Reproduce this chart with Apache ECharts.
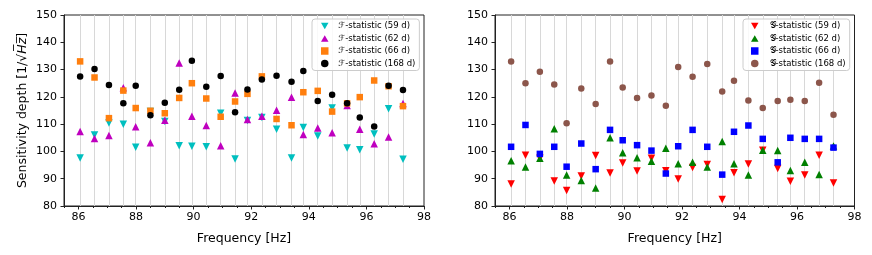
<!DOCTYPE html>
<html><head><meta charset="utf-8">
<script src="https://cdn.jsdelivr.net/npm/echarts@6/dist/echarts.min.js"></script>
<style>html,body{margin:0;padding:0;background:#fff}#c{width:872px;height:255px}</style>
</head><body><div id="c"></div>
<script>
const freqs = [86.06, 86.56, 87.06, 87.56, 87.99, 88.5, 89.0, 89.5, 89.94, 90.44, 90.94, 91.44, 91.87, 92.37, 92.88, 93.4, 93.81, 94.31, 94.81, 95.33, 95.77, 96.27, 96.77, 97.27];
const xTicks = [86, 88, 90, 92, 94, 96, 98];

const F59  = [97.6, 106.0, 110.4, 110.0, 101.5, 114.6, 111.0, 102.1, 101.9, 101.7, 114.0, 97.2, 111.3, 112.4, 108.1, 97.6, 108.8, 105.7, 115.9, 101.3, 100.6, 106.4, 115.6, 97.1];
const F62  = [107.3, 104.7, 105.8, 123.3, 109.0, 103.2, 111.4, 132.4, 112.9, 109.5, 102.1, 121.4, 111.7, 112.9, 115.1, 119.9, 106.2, 108.6, 106.8, 116.8, 108.1, 102.8, 105.3, 117.6];
const F66  = [133.0, 127.1, 112.2, 122.3, 115.9, 114.9, 114.0, 119.6, 125.0, 119.4, 112.7, 118.3, 121.1, 127.5, 111.9, 109.6, 121.7, 122.2, 114.6, 117.6, 119.9, 126.0, 123.9, 116.6];
const F168 = [127.5, 130.2, 124.3, 117.7, 124.1, 113.3, 117.8, 122.6, 133.2, 123.7, 127.6, 114.4, 122.7, 126.4, 127.7, 125.5, 129.5, 118.5, 120.8, 117.7, 112.4, 109.1, 124.1, 122.5];

const G59  = [88.1, 98.6, 97.5, 89.2, 85.7, 91.0, 98.5, 92.1, 95.8, 92.8, 97.5, 92.9, 89.9, 94.1, 95.2, 82.4, 92.2, 95.4, 100.4, 93.7, 89.1, 91.4, 98.6, 88.4];
const G62  = [96.6, 94.3, 97.5, 108.3, 91.4, 89.3, 86.6, 105.0, 99.5, 97.7, 96.4, 101.2, 95.5, 96.0, 94.3, 103.6, 95.5, 91.4, 100.4, 100.3, 93.0, 96.0, 91.5, 102.0];
const G66  = [101.7, 109.7, 99.1, 101.7, 94.4, 102.9, 93.5, 107.9, 104.1, 102.3, 100.3, 91.9, 101.9, 107.9, 101.7, 91.5, 107.2, 109.5, 104.6, 96.0, 105.0, 104.6, 104.6, 101.4];
const G168 = [133.0, 125.0, 129.2, 124.5, 110.3, 123.1, 117.4, 133.0, 123.4, 119.6, 120.5, 116.7, 130.9, 127.4, 132.0, 122.0, 125.9, 118.7, 115.9, 118.5, 118.9, 118.5, 125.2, 113.4];

const namesF = ['ℱ-statistic (59 d)', 'ℱ-statistic (62 d)', 'ℱ-statistic (66 d)', 'ℱ-statistic (168 d)'];
const namesG = ['𝒢-statistic (59 d)', '𝒢-statistic (62 d)', '𝒢-statistic (66 d)', '𝒢-statistic (168 d)'];

const FONT = 'DejaVu Sans';
const DOWN = 'path://M0,0L2,0L1,1.732Z';
const UP = 'path://M1,0L2,1.732L0,1.732Z';
const icons = [DOWN, UP, 'rect', 'circle'];
const zip = (v) => freqs.map((f, i) => [f, v[i]]);

function xAxesFor(g) {
  return [{
    type: 'value', gridIndex: g, min: 85.5, max: 98, position: 'bottom',
    name: 'Frequency [Hz]', nameLocation: 'middle', nameGap: 26,
    nameTextStyle: {fontFamily: FONT, fontSize: 12.5, color: '#000'},
    axisLine: {show: true, lineStyle: {color: '#222', width: 1}},
    axisTick: {show: true, inside: false, length: 3.5, customValues: xTicks, lineStyle: {color: '#222'}},
    axisLabel: {customValues: xTicks, fontFamily: FONT, fontSize: 11, color: '#000', margin: 6},
    splitLine: {show: false}
  }, {
    type: 'value', gridIndex: g, min: 85.5, max: 98, interval: 0.5, position: 'bottom',
    axisLine: {show: false},
    axisTick: {show: true, length: 2, lineStyle: {color: '#222'}},
    axisLabel: {show: false}, splitLine: {show: false}
  }];
}
function yAxisFor(g, withName) {
  const a = {
    type: 'value', gridIndex: g, min: 80, max: 150, interval: 10,
    axisLine: {show: true, lineStyle: {color: '#222', width: 1}},
    axisTick: {show: true, length: 3.5, lineStyle: {color: '#222'}},
    axisLabel: {fontFamily: FONT, fontSize: 11, color: '#000', margin: 7},
    splitLine: {show: false}
  };
  if (withName) {
    a.name = 'Sensitivity depth [1/√{hz|H̅z̅}]';
    a.nameLocation = 'middle';
    a.nameGap = 35;
    a.nameTextStyle = {fontFamily: FONT, fontSize: 12.5, color: '#000',
      rich: {hz: {fontFamily: FONT, fontSize: 12.5, fontStyle: 'italic', color: '#000'}}};
  }
  return a;
}
function scat(name, data, color, symbol, rot, size, xi, yi) {
  return {type: 'scatter', name: name, data: zip(data), xAxisIndex: xi, yAxisIndex: yi,
    symbol: symbol, symbolRotate: rot, symbolSize: size,
    itemStyle: {color: color, opacity: 1}, emphasis: {disabled: true}, z: 3};
}
function vlines(xi, yi) {
  return {type: 'scatter', name: 'vl', data: [], xAxisIndex: xi, yAxisIndex: yi, z: 1, silent: true,
    markLine: {silent: true, symbol: ['none', 'none'], z: 1, animation: false,
      label: {show: false}, lineStyle: {color: '#d8d8d8', width: 1, type: 'solid'},
      emphasis: {disabled: true},
      data: freqs.map(f => ({xAxis: f}))}};
}
function legendFor(names, left, padL, textPad) {
  return {
    data: names.map((n, i) => ({name: n, icon: icons[i]})),
    orient: 'vertical', left: left, top: 19,
    backgroundColor: 'rgba(255,255,255,0.85)', borderColor: '#cccccc', borderWidth: 1, borderRadius: 3,
    padding: [2, 4, 2, padL], itemGap: 2.5, itemWidth: 7.5, itemHeight: 7.5,
    symbolRotate: 0,
    textStyle: {fontFamily: FONT, fontSize: 8.5, color: '#000', lineHeight: 10, padding: [0, 0, 0, textPad]},
    selectedMode: false
  };
}

const chart = echarts.init(document.getElementById('c'), null, {renderer: 'canvas'});
chart.setOption({
  animation: false,
  backgroundColor: '#fff',
  grid: [
    {left: 64, right: 448, top: 15, bottom: 49, show: true, borderColor: '#222', borderWidth: 1, backgroundColor: 'transparent'},
    {left: 495, right: 17.5, top: 15, bottom: 49, show: true, borderColor: '#222', borderWidth: 1, backgroundColor: 'transparent'}
  ],
  xAxis: xAxesFor(0).concat(xAxesFor(1)),
  yAxis: [yAxisFor(0, true), yAxisFor(1, false)],
  legend: [legendFor(namesF, 312, 9, 5), legendFor(namesG, 743, 8, 6)],
  series: [
    vlines(0, 0),
    scat(namesF[0], F59, '#00bfbf', 'triangle', 180, 7.5, 0, 0),
    scat(namesF[1], F62, '#bf00bf', 'triangle', 0, 7.5, 0, 0),
    scat(namesF[2], F66, '#ff7f0e', 'rect', 0, 6.5, 0, 0),
    scat(namesF[3], F168, '#000000', 'circle', 0, 6.5, 0, 0),
    vlines(2, 1),
    scat(namesG[0], G59, '#ff0000', 'triangle', 180, 7.5, 2, 1),
    scat(namesG[1], G62, '#008000', 'triangle', 0, 7.5, 2, 1),
    scat(namesG[2], G66, '#0000ff', 'rect', 0, 6.5, 2, 1),
    scat(namesG[3], G168, '#8c564b', 'circle', 0, 6.5, 2, 1)
  ]
});
</script></body></html>
